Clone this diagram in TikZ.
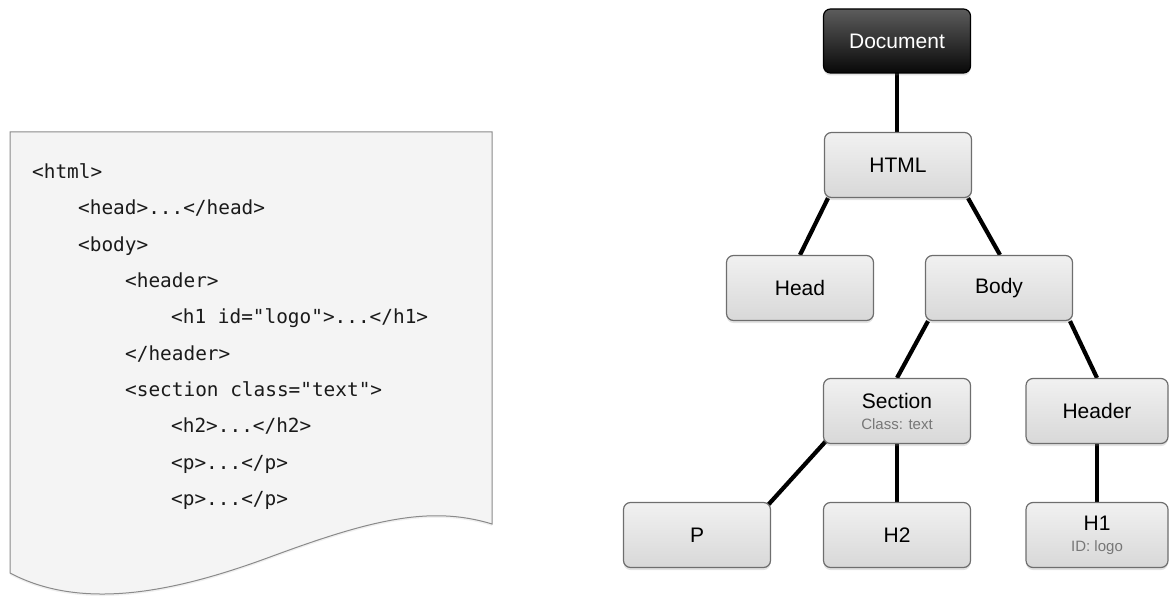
\documentclass[tikz,border=0pt]{standalone}
\usepackage{fontspec}
\setmainfont{Liberation Sans}
\setmonofont{DejaVu Sans Mono}
\usetikzlibrary{shadows,backgrounds,calc}

\definecolor{boxtop}{HTML}{F1F1F1}
\definecolor{boxbot}{HTML}{D8D8D8}
\definecolor{boxline}{HTML}{6E6E6E}
\definecolor{doctop}{HTML}{5C5C5C}
\definecolor{docbot}{HTML}{080808}
\definecolor{subgray}{HTML}{777777}
\definecolor{paperfill}{HTML}{F4F4F4}
\definecolor{paperline}{HTML}{8A8A8A}
\definecolor{codecol}{HTML}{1A1A1A}

\newcommand{\sublabel}[1]{\\[-1pt]{\fontsize{15}{18}\selectfont\color{subgray}#1}}

\tikzset{
  treebox/.style={draw=boxline, line width=1.2pt, rounded corners=7pt,
    top color=boxtop, bottom color=boxbot,
    minimum width=147pt, minimum height=65pt, inner sep=0pt,
    align=center, font=\fontsize{21}{22}\selectfont,
    drop shadow={shadow xshift=0pt, shadow yshift=-2.5pt, opacity=0.22}},
  docbox/.style={treebox, draw=black, top color=doctop, bottom color=docbot,
    text=white, minimum height=64pt},
  link/.style={line width=4.2pt, black},
  codeline/.style={anchor=base west, inner sep=0pt, text=codecol,
    font=\ttfamily\fontsize{19.4}{20}\selectfont},
  paper/.style={draw=paperline, line width=1pt, fill=paperfill,
    drop shadow={shadow xshift=0pt, shadow yshift=-2pt, opacity=0.12}}
}

\begin{document}
\begin{tikzpicture}[x=1pt, y=-1pt]
\useasboundingbox (0,0) rectangle (1169,599);

% source page with a wavy torn bottom edge
\path[paper] (10,132) -- (492,132) -- (492,524)
  .. controls (430,505) and (370,520) .. (270,557)
  .. controls (170,594) and (80,610) .. (10,573) -- cycle;

% markup listing
\node[codeline] (l1)  at (32,178)  {<html>};
\node[codeline] (l2)  at (78,214)  {<head>...</head>};
\node[codeline] (l3)  at (78,251)  {<body>};
\node[codeline] (l4)  at (125,287) {<header>};
\node[codeline] (l5)  at (171,323) {<h1 id="logo">...</h1>};
\node[codeline] (l6)  at (125,360) {</header>};
\node[codeline] (l7)  at (125,396) {<section class="text">};
\node[codeline] (l8)  at (171,432) {<h2>...</h2>};
\node[codeline] (l9)  at (171,469) {<p>...</p>};
\node[codeline] (l10) at (171,505) {<p>...</p>};

% element tree
\node[docbox]  (doc)     at (897,41)  {Document};
\node[treebox] (html)    at (898,165) {HTML};
\node[treebox] (head)    at (800,288) {Head};
\node[treebox] (body)    at (999,288) {Body};
\node[treebox] (section) at (897,411) {Section\sublabel{Class: text}};
\node[treebox, minimum width=142pt] (header) at (1097,411) {Header};
\node[treebox] (p)       at (697,535) {P};
\node[treebox] (h2)      at (897,535) {H2};
\node[treebox, minimum width=142pt] (h1) at (1097,535) {H1\sublabel{ID: logo}};

\begin{scope}[on background layer]
  \draw[link] (doc.center) -- ($(html.center)+(-1,0)$);
  \draw[link] ($(html.south)+(-70,0)$) -- (head.north);
  \draw[link] ($(html.south)+(70,0)$) -- ($(body.north)+(1,0)$);
  \draw[link] ($(body.south)+(-71,0)$) -- (section.north);
  \draw[link] ($(body.south)+(71,0)$) -- (header.north);
  \draw[link] ($(section.south west)+(3,-3)$) -- ($(p.north east)+(-3,3)$);
  \draw[link] (section.center) -- (h2.center);
  \draw[link] (header.center) -- (h1.center);
\end{scope}
\end{tikzpicture}
\end{document}
